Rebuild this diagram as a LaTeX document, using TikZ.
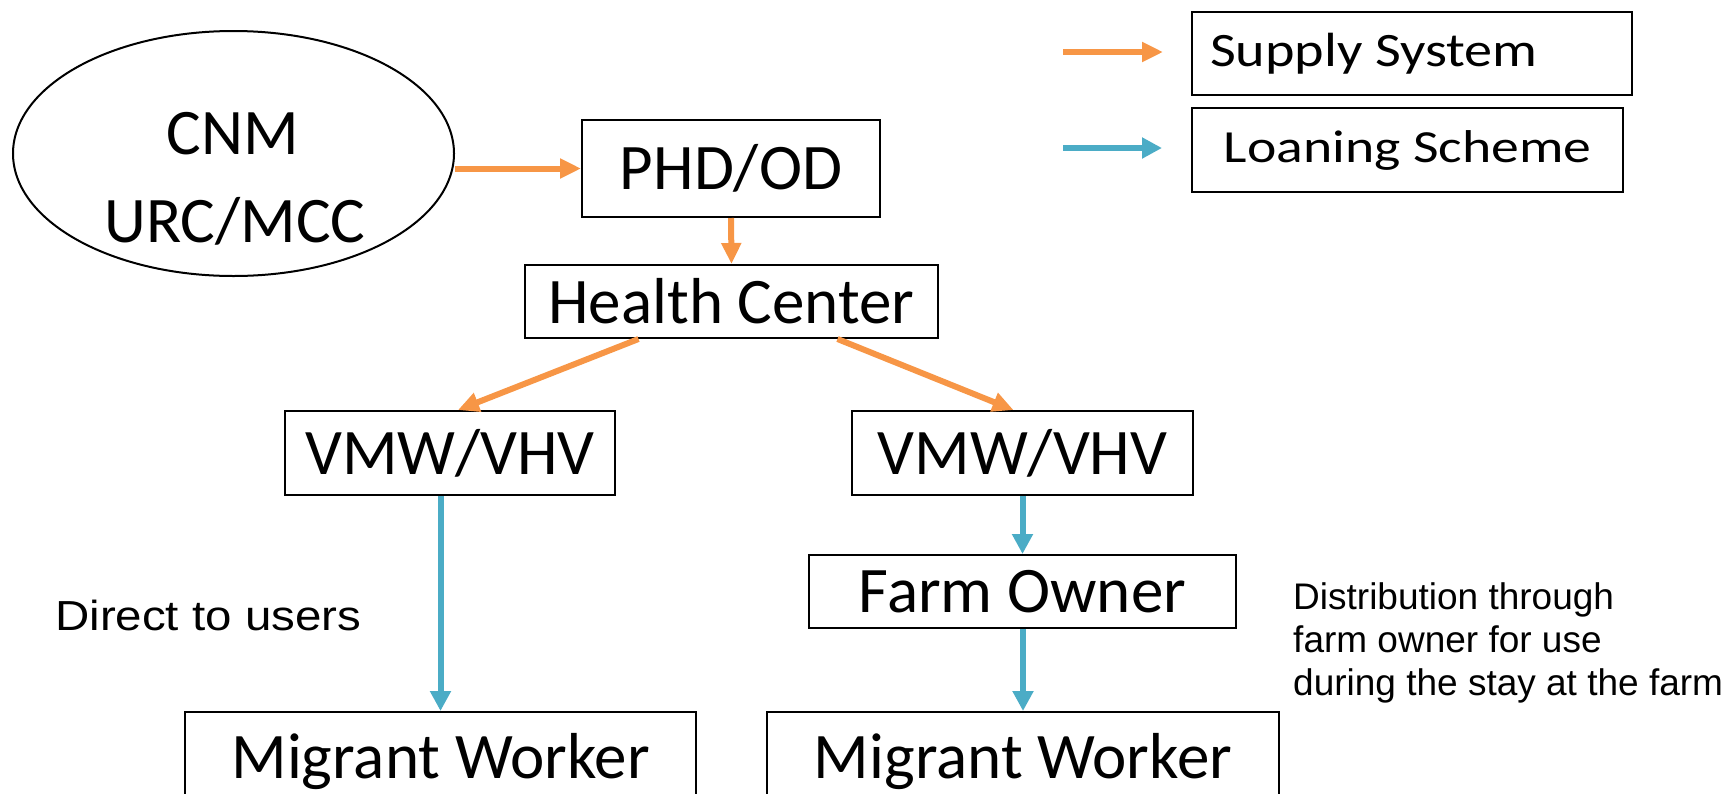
\documentclass[tikz,border=0pt]{standalone}
\usepackage{fontspec}
\setmainfont{Carlito}
\newfontfamily\arialfont{Liberation Sans}
\usetikzlibrary{arrows.meta,calc,shapes.geometric}
\definecolor{supplyc}{HTML}{F79646}
\definecolor{loanc}{HTML}{4BACC6}
\tikzset{
  box/.style={draw=black, line width=2pt, rectangle, inner sep=0pt, anchor=north west,
    font=\fontsize{65}{78}\selectfont},
  legbox/.style={draw=black, line width=2pt, rectangle, inner sep=0pt, anchor=north west},
  bigtext/.style={inner sep=0pt, anchor=base, font=\fontsize{65}{78}\selectfont},
  supplyarrow/.style={draw=supplyc, line width=6pt, -{Triangle[length=21pt,width=19pt]}},
  loanarrow/.style={draw=loanc, line width=6pt, -{Triangle[length=20pt,width=20pt]}},
}
\begin{document}
\begin{tikzpicture}[x=1pt, y=-1pt]
\useasboundingbox (0,0) rectangle (1728,793);
\clip (0,0) rectangle (1728,793);
% ellipse
\node[draw=black, line width=2pt, ellipse, minimum width=441pt, minimum height=245pt, inner sep=0pt] (ell) at (233.5,153.5) {};
\node[bigtext] (cnm) at (233,154) {CNM};
\node[bigtext] (urc) at (235,242) {URC/MCC};
% boxes
\node[box, minimum width=298pt, minimum height=97pt] (phd) at (581,119) {PHD/OD};
\node[box, minimum width=413pt, minimum height=73pt] (hc) at (524,264) {Health Center};
\node[box, minimum width=330pt, minimum height=84pt] (vmwl) at (284,410) {VMW/VHV};
\node[box, minimum width=341pt, minimum height=84pt] (vmwr) at (851,410) {VMW/VHV};
\node[box, minimum width=427pt, minimum height=73pt] (farm) at (808,554) {Farm Owner};
\node[box, minimum width=511pt, minimum height=100pt] (mwl) at (184,711) {Migrant Worker};
\node[box, minimum width=512pt, minimum height=100pt] (mwr) at (766,711) {Migrant Worker};
% legend
\node[legbox, minimum width=440pt, minimum height=83pt] (sup) at (1191,11)
  {\fontsize{48}{58}\selectfont\scalebox{1.17}[1]{Supply System}\rule{76pt}{0pt}};
\node[legbox, minimum width=431pt, minimum height=84pt] (loan) at (1191,107)
  {\fontsize{46}{56}\selectfont\scalebox{1.21}[1]{Loaning Scheme}};
\coordinate (s1) at (1063,52);
\coordinate (s2) at (1163,52);
\coordinate (l1) at (1063,148);
\coordinate (l2) at (1162,148);
\draw[supplyarrow] (s1) -- (s2);
\draw[loanarrow] (l1) -- (l2);
% labels
\node[inner sep=0pt, anchor=base west, font=\arialfont\fontsize{42}{50}\selectfont] (direct) at (55,630)
  {\scalebox{1.13}[1]{Direct to users}};
\node[inner sep=0pt, anchor=base west, align=left, font=\arialfont\fontsize{37}{43}\selectfont] (dist) at (1293,695)
  {Distribution through\\farm owner for use\\during the stay at the farm};
% connectors
\draw[supplyarrow] (ell.east |- phd.west) -- (phd.west);
\draw[supplyarrow] (phd.south) -- (hc.north);
\draw[supplyarrow] ($(hc.south)+(-93,0)$) -- ($(vmwl.north)+(8,0)$);
\draw[supplyarrow] ($(hc.south)+(106,0)$) -- ($(vmwr.north)+(-9,0)$);
\draw[loanarrow] (vmwl.south -| mwl.north) -- (mwl.north);
\draw[loanarrow] (vmwr.south -| farm.north) -- (farm.north);
\draw[loanarrow] (farm.south -| mwr.north) -- (mwr.north);
\end{tikzpicture}
\end{document}
